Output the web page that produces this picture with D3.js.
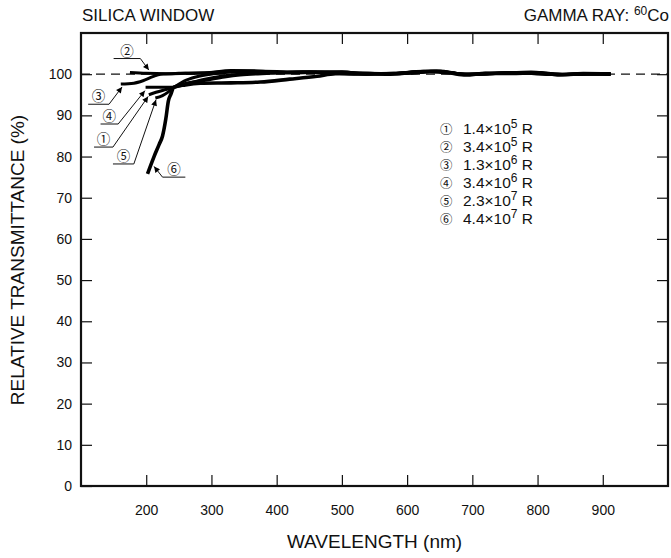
<!DOCTYPE html>
<html>
<head>
<meta charset="utf-8">
<script src="https://cdn.jsdelivr.net/npm/d3@7/dist/d3.min.js"></script>
<style>
  html, body { margin: 0; padding: 0; background: #fff; }
  svg { display: block; }
  text { font-family: "Liberation Sans", Arial, Helvetica, sans-serif; fill: #111; }
  .circ { font-family: "Noto Sans CJK JP", "DejaVu Sans", sans-serif; }
</style>
</head>
<body>
<svg id="chart" width="671" height="558"></svg>
<script>
// Relative transmittance of a silica window after gamma irradiation (60Co)
// Each curve: [wavelength nm, relative transmittance %]
const curve1 = [[204,95.0],[215,95.6],[228,96.2],[242,96.8],[258,98.3],[276,99.3],[303,100.1],[340,100.6],[380,100.7],[430,100.5],[480,100.4],[520,100.1],[560,100.1],[600,100.4],[635,100.8],[665,100.4],[690,100.0],[720,100.2],[760,100.3],[790,100.4],[830,99.9],[870,100.2],[912,100.1]];
const curve2 = [[175,100.4],[200,100.2],[230,100.1],[260,100.2],[300,100.4],[340,100.8],[380,100.6],[420,100.4],[460,100.6],[500,100.5],[540,100.2],[580,100.1],[620,100.5],[645,100.8],[670,100.3],[690,99.9],[725,100.1],[765,100.3],[800,100.4],[840,99.9],[880,100.1],[912,100.1]];
const curve3 = [[161,97.6],[181,97.8],[195,98.4],[210,99.4],[222,100.0],[250,100.2],[290,100.3],[330,100.9],[370,100.8],[410,100.3],[450,100.4],[500,100.6],[540,100.0],[580,100.2],[625,100.7],[655,100.6],[685,100.0],[715,100.1],[755,100.4],[785,100.2],[825,99.9],[865,100.1],[912,100.0]];
const curve4 = [[199,96.8],[220,96.8],[242,96.8],[265,97.8],[290,98.8],[320,99.6],[350,100.1],[400,100.4],[450,100.6],[500,100.3],[540,100.1],[580,100.2],[620,100.6],[650,100.8],[680,100.1],[710,100.0],[750,100.3],[790,100.5],[820,100.1],[850,99.9],[890,100.1],[912,100.1]];
const curve5 = [[214,94.2],[225,94.8],[234,95.7],[242,96.8],[262,97.8],[291,98.5],[320,99.3],[344,99.8],[390,100.2],[440,100.5],[490,100.2],[530,100.0],[570,100.1],[610,100.3],[640,100.7],[670,100.3],[695,99.9],[730,100.1],[770,100.4],[800,100.3],[835,99.8],[875,100.0],[912,100.0]];
const curve6 = [[202,75.8],[212,80.0],[220,83.0],[225,85.0],[230,89.1],[234,93.5],[238,95.2],[242,96.8],[260,97.4],[283,97.8],[330,97.9],[375,98.1],[420,98.8],[462,99.5],[490,100.1],[530,100.2],[570,100.0],[610,100.4],[635,100.6],[665,100.3],[690,99.8],[720,100.2],[760,100.2],[795,100.3],[830,99.9],[870,100.1],[912,100.0]];

const curves = [curve1, curve2, curve3, curve4, curve5, curve6];
const marks = ["①", "②", "③", "④", "⑤", "⑥"];
const doseMantissa = ["1.4", "3.4", "1.3", "3.4", "2.3", "4.4"];
const doseExponent = ["5", "5", "6", "6", "7", "7"];

// Curve callouts: underline from x0..x1 at level y (data units), leader to tip
const callouts = [
  { k: 1, x0: 150, x1: 191, y: 103.8, tx: 204, ty: 101.0, from: "end" },
  { k: 2, x0: 111, x1: 143, y: 92.7, tx: 163, ty: 96.9, from: "end" },
  { k: 3, x0: 130, x1: 157, y: 87.9, tx: 198, ty: 96.0, from: "end" },
  { k: 0, x0: 120, x1: 149, y: 82.3, tx: 203, ty: 94.6, from: "end" },
  { k: 4, x0: 149, x1: 181, y: 78.2, tx: 215, ty: 93.8, from: "end" },
  { k: 5, x0: 225, x1: 260, y: 75.0, tx: 212, ty: 77.6, from: "start" }
];

const xTicks = [200, 300, 400, 500, 600, 700, 800, 900];
const yTicks = [0, 10, 20, 30, 40, 50, 60, 70, 80, 90, 100];

const svg = d3.select("#chart");
const plotL = 81, plotR = 668, plotT = 33, plotB = 486;

const x = d3.scaleLinear().domain([100, 1000]).range([plotL, plotR]);
const y = d3.scaleLinear().domain([0, 110]).range([plotB, plotT]);

// Reference level at 100 %
svg.append("line")
  .attr("x1", x(100)).attr("x2", x(1000))
  .attr("y1", y(100)).attr("y2", y(100))
  .attr("stroke", "#111").attr("stroke-width", 1.3)
  .attr("stroke-dasharray", "9,6");

// Inward ticks on all four sides
const tickLen = 11;
svg.append("g").attr("transform", `translate(0,${plotB})`)
  .call(d3.axisBottom(x).tickValues(xTicks).tickSizeInner(-tickLen).tickSizeOuter(0).tickPadding(19))
  .call(g => g.select(".domain").remove())
  .call(g => g.selectAll("text").style("font-size", "14px").attr("fill", "#111"));
svg.append("g").attr("transform", `translate(0,${plotT})`)
  .call(d3.axisTop(x).tickValues(xTicks).tickSizeInner(-tickLen).tickSizeOuter(0).tickFormat(""))
  .call(g => g.select(".domain").remove());
svg.append("g").attr("transform", `translate(${plotL},0)`)
  .call(d3.axisLeft(y).tickValues(yTicks).tickSizeInner(-tickLen).tickSizeOuter(0).tickPadding(9))
  .call(g => g.select(".domain").remove())
  .call(g => g.selectAll("text").style("font-size", "14px").attr("fill", "#111"));
svg.append("g").attr("transform", `translate(${plotR},0)`)
  .call(d3.axisRight(y).tickValues(yTicks.filter(v => v > 0)).tickSizeInner(-tickLen).tickSizeOuter(0).tickFormat(""))
  .call(g => g.select(".domain").remove());
svg.selectAll(".tick line").attr("stroke", "#111").attr("stroke-width", 1.2);

// Plot frame
svg.append("rect")
  .attr("x", plotL).attr("y", plotT)
  .attr("width", plotR - plotL).attr("height", plotB - plotT)
  .attr("fill", "none").attr("stroke", "#111").attr("stroke-width", 2.2);

// Transmittance curves
const line = d3.line().x(d => x(d[0])).y(d => y(d[1])).curve(d3.curveMonotoneX);
svg.append("g").selectAll("path").data(curves).join("path")
  .attr("d", line)
  .attr("fill", "none").attr("stroke", "#000")
  .attr("stroke-width", (d, i) => i === 5 ? 3.6 : 3.0)
  .attr("stroke-linejoin", "round").attr("stroke-linecap", "butt");

// Arrowhead for callout leaders
svg.append("defs").append("marker")
  .attr("id", "arrow").attr("viewBox", "0 0 10 10")
  .attr("refX", 10).attr("refY", 5)
  .attr("markerWidth", 7).attr("markerHeight", 6)
  .attr("markerUnits", "userSpaceOnUse")
  .attr("orient", "auto")
  .append("path").attr("d", "M0,0 L10,5 L0,10 Z").attr("fill", "#000");

const cg = svg.append("g");
callouts.forEach(c => {
  cg.append("line")
    .attr("x1", x(c.x0)).attr("x2", x(c.x1))
    .attr("y1", y(c.y)).attr("y2", y(c.y))
    .attr("stroke", "#111").attr("stroke-width", 1);
  const sx = c.from === "end" ? x(c.x1) : x(c.x0);
  cg.append("line")
    .attr("x1", sx).attr("y1", y(c.y))
    .attr("x2", x(c.tx)).attr("y2", y(c.ty))
    .attr("stroke", "#111").attr("stroke-width", 1)
    .attr("marker-end", "url(#arrow)");
  cg.append("text").attr("class", "circ")
    .attr("x", (x(c.x0) + x(c.x1)) / 2).attr("y", y(c.y) - 3)
    .attr("text-anchor", "middle")
    .style("font-size", "13.5px")
    .text(marks[c.k]);
});

// Dose legend
const lg = svg.append("g").attr("transform", "translate(440,134)");
marks.forEach((m, i) => {
  const row = lg.append("g").attr("transform", `translate(0,${i * 18})`);
  row.append("text").attr("class", "circ").attr("x", 0).style("font-size", "12.4px").text(m);
  const t = row.append("text").attr("x", 23).style("font-size", "15.5px");
  t.append("tspan").text(doseMantissa[i] + "×10");
  t.append("tspan").attr("dy", -6).style("font-size", "12px").text(doseExponent[i]);
  t.append("tspan").attr("dy", 6).text(" R");
});

// Titles
svg.append("text").attr("x", 82).attr("y", 21).style("font-size", "17px").text("SILICA WINDOW");
const gt = svg.append("text").attr("x", 669).attr("y", 21).attr("text-anchor", "end").style("font-size", "17px");
gt.append("tspan").text("GAMMA RAY: ");
gt.append("tspan").attr("dy", -6).style("font-size", "12px").text("60");
gt.append("tspan").attr("dy", 6).text("Co");

svg.append("text").attr("x", (plotL + plotR) / 2).attr("y", 548)
  .attr("text-anchor", "middle").style("font-size", "19px").text("WAVELENGTH (nm)");
svg.append("text").attr("transform", `translate(24,260) rotate(-90)`)
  .attr("text-anchor", "middle").style("font-size", "19px").text("RELATIVE TRANSMITTANCE (%)");
</script>
</body>
</html>
